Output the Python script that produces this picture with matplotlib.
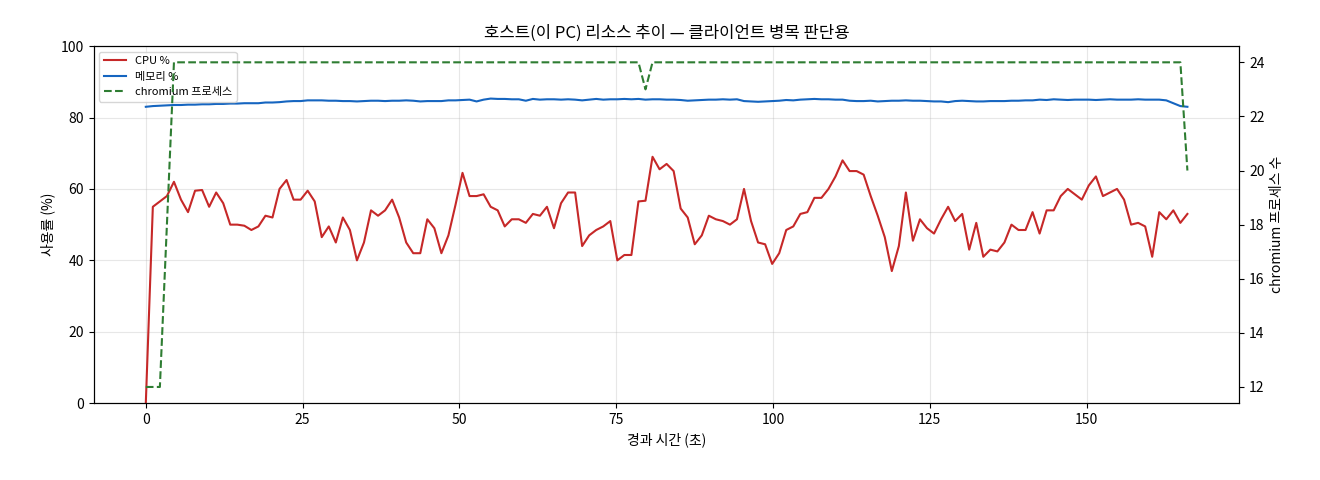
import numpy as np
import matplotlib
matplotlib.use('Agg')
from matplotlib import pyplot as plt

plt.rcParams['font.family'] = ['Noto Sans CJK KR', 'DejaVu Sans']

# CPU % samples
cpu = [0, 55, 56.5, 58, 62, 57, 53.5, 59.5, 59.7, 55, 59, 56, 50, 50, 49.7, 48.5, 49.5, 52.5, 52, 60,
       62.5, 57, 57, 59.5, 56.5, 46.5, 49.5, 45, 52, 48.5, 40, 45, 54, 52.5, 54, 57, 52, 45, 42, 42,
       51.5, 49, 42, 47, 55.5, 64.5, 58, 58, 58.5, 55, 54, 49.5, 51.5, 51.5, 50.5, 53, 52.5, 55, 49, 56,
       59, 59, 44, 47, 48.5, 49.5, 51, 40, 41.5, 41.5, 56.5, 56.7, 69, 65.5, 67, 65, 54.5, 52, 44.5, 47,
       52.5, 51.5, 51, 50, 51.5, 60, 51, 45, 44.5, 39, 42, 48.5, 49.5, 53, 53.5, 57.5, 57.5, 60, 63.5, 68,
       65, 65, 64, 58, 52.5, 46.5, 37, 44, 59, 45.5, 51.5, 49, 47.5, 51.5, 55, 51, 53, 43, 50.5, 41,
       43, 42.5, 45, 50, 48.5, 48.5, 53.5, 47.5, 54, 54, 58, 60, 58.5, 57, 61, 63.5, 58, 59, 60, 57,
       50, 50.5, 49.5, 41, 53.5, 51.5, 54, 50.5, 53]

# memory % samples
mem = [83.0, 83.2, 83.3, 83.4, 83.5, 83.5, 83.6, 83.6, 83.7, 83.7, 83.8, 83.8, 83.9, 83.9, 84.0, 84.0, 84.0, 84.2, 84.2, 84.3,
       84.5, 84.6, 84.6, 84.8, 84.8, 84.8, 84.7, 84.7, 84.6, 84.6, 84.5, 84.6, 84.7, 84.7, 84.6, 84.7, 84.7, 84.8, 84.7, 84.5,
       84.6, 84.6, 84.6, 84.8, 84.8, 84.9, 85.0, 84.5, 85.0, 85.3, 85.2, 85.2, 85.1, 85.1, 84.7, 85.2, 85.0, 85.1, 85.1, 85.0,
       85.1, 85.0, 84.8, 85.0, 85.2, 85.0, 85.1, 85.1, 85.2, 85.1, 85.2, 85.0, 85.1, 85.1, 85.0, 85.0, 84.9, 84.7, 84.8, 84.9,
       85.0, 85.0, 85.1, 85.0, 85.1, 84.6, 84.5, 84.4, 84.5, 84.6, 84.7, 84.9, 84.8, 85.0, 85.1, 85.2, 85.1, 85.1, 85.0, 85.0,
       84.7, 84.6, 84.6, 84.7, 84.5, 84.6, 84.7, 84.7, 84.8, 84.7, 84.7, 84.6, 84.5, 84.5, 84.3, 84.6, 84.7, 84.6, 84.5, 84.5,
       84.6, 84.6, 84.6, 84.7, 84.7, 84.8, 84.8, 85.0, 84.9, 85.1, 85.0, 84.9, 85.0, 85.0, 85.0, 84.9, 85.0, 85.1, 85.0, 85.0,
       85.0, 85.1, 85.0, 85.0, 85.0, 84.8, 84.0, 83.2, 83.0]

# chromium process count
procs = [12, 12, 12, 18, 24, 24, 24, 24, 24, 24] + [24] * 61 + [23] + [24] * 75 + [24, 20]
procs = procs[:len(cpu)]

t = np.arange(len(cpu)) * 1.122

fig, ax = plt.subplots(figsize=(13.2, 4.8), dpi=100)
fig.subplots_adjust(left=0.071, right=0.939, top=0.904, bottom=0.16)
l1, = ax.plot(t, cpu, color='#c62828', lw=1.5, label='CPU %')
l2, = ax.plot(t, mem, color='#1565c0', lw=1.5, label='메모리 %')
ax.set_ylim(0, 100)
ax.set_xlabel('경과 시간 (초)')
ax.set_ylabel('사용률 (%)')
ax.grid(alpha=0.3)
ax.set_title('호스트(이 PC) 리소스 추이 — 클라이언트 병목 판단용')

ax2 = ax.twinx()
l3, = ax2.plot(t, procs, color='#2e7d32', lw=1.5, ls='--', label='chromium 프로세스')
ax2.set_ylabel('chromium 프로세스 수')

ax.legend(handles=[l1, l2, l3], loc='upper left', fontsize=8)
fig.savefig('out.png')
